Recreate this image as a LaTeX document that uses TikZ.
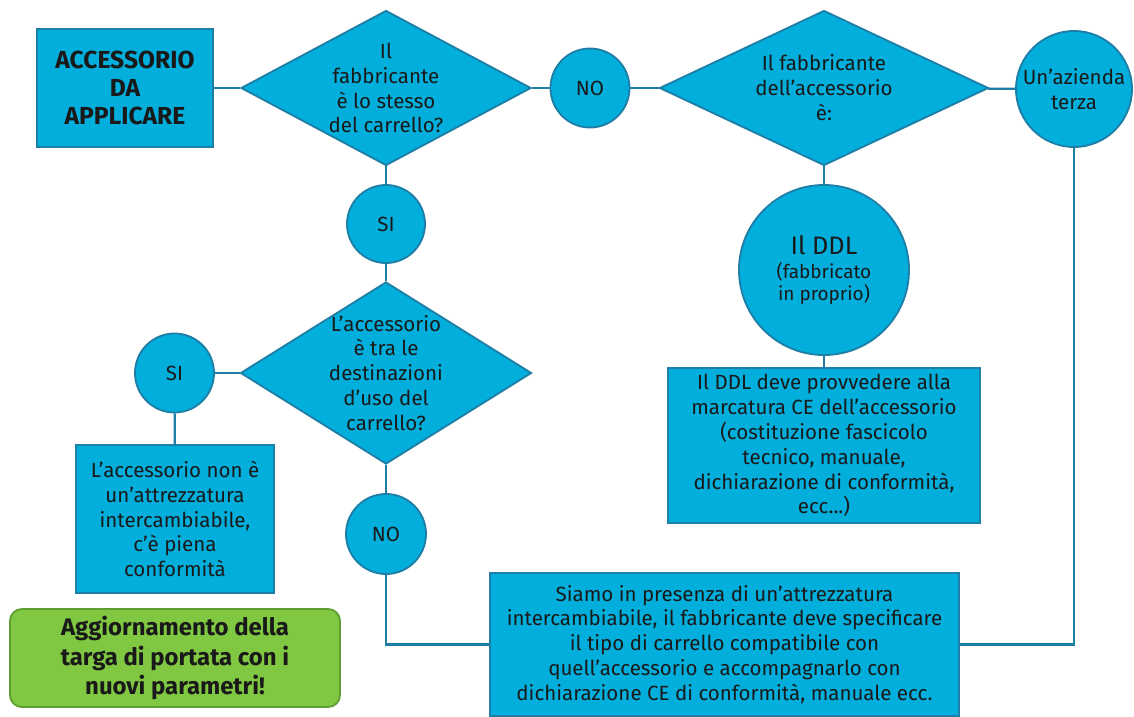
\documentclass[tikz,border=0pt]{standalone}
\usepackage{fontspec}
\setmainfont{Fira Sans}
\usetikzlibrary{shapes.geometric}
\definecolor{flowcyan}{RGB}{2,174,219}
\definecolor{flowedge}{RGB}{30,126,166}
\definecolor{flowgreen}{RGB}{128,200,66}
\definecolor{greenedge}{RGB}{96,158,50}
\begin{document}
\begin{tikzpicture}[x=0.025cm, y=-0.025cm,
		base/.style={draw=flowedge, fill=flowcyan, line width=1.3pt, inner sep=0pt, align=center, text=black!90, font=\fontsize{14.6}{17.7}\selectfont},
		box/.style={base, rectangle},
		decision/.style={base, diamond},
		answer/.style={base, circle},
		qtext/.style={align=center, text=black!90, font=\fontsize{14.6}{17.7}\selectfont},
		link/.style={draw=flowedge, line width=1.6pt}]
		\useasboundingbox (0,0) rectangle (1134,717);
		% top row
		\node[box, minimum width=4.4cm, minimum height=2.95cm, font=\bfseries\fontsize{17.5}{20}\selectfont] (start) at (125,88) {ACCESSORIO\\DA\\APPLICARE};
		\node[decision, minimum width=7.25cm, minimum height=3.875cm, label={[qtext]center:{Il\\fabbricante\\è lo stesso\\del carrello?}}] (q1) at (386,88) {};
		\node[answer, minimum size=1.975cm] (no1) at (590,88) {NO};
		\node[decision, minimum width=8.225cm, minimum height=3.875cm, label={[qtext]center:{Il fabbricante\\dell’accessorio\\è:}}] (q2) at (824,88) {};
		\node[answer, minimum size=2.9cm] (terza) at (1074,89) {Un’azienda\\terza};
		% middle column
		\node[answer, minimum size=1.95cm] (si1) at (386,224) {SI};
		\node[decision, minimum width=7.275cm, minimum height=4.55cm, label={[qtext]center:{L’accessorio\\è tra le\\destinazioni\\d’uso del\\carrello?}}] (q3) at (386,373) {};
		\node[answer, minimum size=1.975cm] (si2) at (174.5,373) {SI};
		\node[answer, minimum size=2cm] (no2) at (386,534) {NO};
		\node[box, minimum width=4.95cm, minimum height=3.7cm] (conf) at (175,519) {L’accessorio non è\\un’attrezzatura\\intercambiabile,\\c’è piena\\conformità};
		\node[box, rounded corners=0.3cm, draw=greenedge, fill=flowgreen, minimum width=8.25cm, minimum height=2.45cm, font=\bfseries\fontsize{17}{21}\selectfont] (update) at (175,658) {Aggiornamento della\\targa di portata con i\\nuovi parametri!};
		% right column
		\node[answer, minimum size=4.25cm] (ddl) at (824,270) {{\fontsize{18}{20}\selectfont Il DDL}\\[-1pt]{\fontsize{13.5}{15}\selectfont (fabbricato}\\[-2pt]{\fontsize{13.5}{15}\selectfont in proprio)}};
		\node[box, minimum width=7.8cm, minimum height=3.875cm] (ddlbox) at (824,445.5) {Il DDL deve provvedere alla\\marcatura CE dell’accessorio\\(costituzione fascicolo\\tecnico, manuale,\\dichiarazione di conformità,\\ecc...)};
		\node[box, minimum width=11.725cm, minimum height=3.575cm] (inter) at (724.5,644.5) {Siamo in presenza di un’attrezzatura\\intercambiabile, il fabbricante deve specificare\\il tipo di carrello compatibile con\\quell’accessorio e accompagnarlo con\\dichiarazione CE di conformità, manuale ecc.};
		% connectors
		\draw[link] (start) -- (q1);
		\draw[link] (q1) -- (no1);
		\draw[link] (no1) -- (q2);
		\draw[link] (q2) -- (terza);
		\draw[link] (q1) -- (si1);
		\draw[link] (si1) -- (q3);
		\draw[link] (q3) -- (si2);
		\draw[link] (q3) -- (no2);
		\draw[link] (si2) -- (conf);
		\draw[link] (q2) -- (ddl);
		\draw[link] (ddl) -- (ddlbox);
		\draw[link] (no2) |- (inter);
		\draw[link] (terza) |- (inter);
	\end{tikzpicture}
\end{document}
